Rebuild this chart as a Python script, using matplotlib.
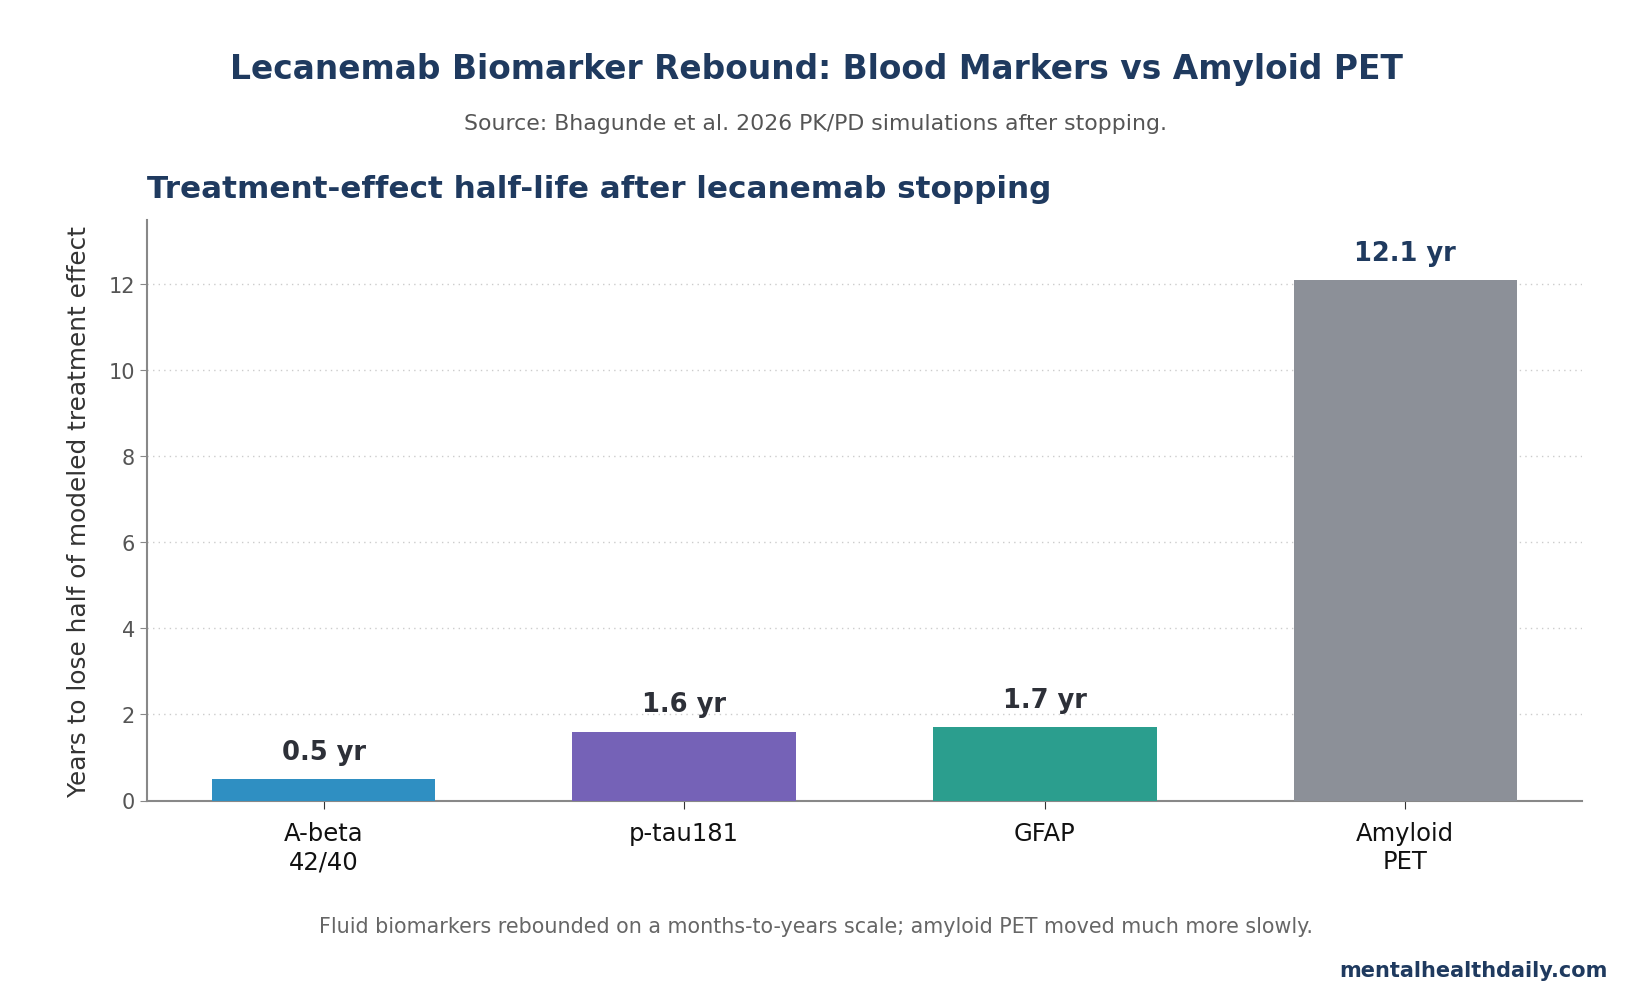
import matplotlib
matplotlib.use("Agg")
import matplotlib.pyplot as plt

categories = ["A-beta\n42/40", "p-tau181", "GFAP", "Amyloid\nPET"]
values = [0.5, 1.6, 1.7, 12.1]
value_labels = ["0.5 yr", "1.6 yr", "1.7 yr", "12.1 yr"]
colors = ["#2f8fc2", "#7562b7", "#2b9e8e", "#8c9098"]
label_colors = ["#2d3038", "#2d3038", "#2d3038", "#1f3a5f"]
yticks = [0, 2, 4, 6, 8, 10, 12]

W, H = 1632, 1003
fig = plt.figure(figsize=(W / 100, H / 100), dpi=100)
ax = fig.add_axes([147 / W, 1 - 801.5 / H, (1582 - 147) / W, (801.5 - 220.6) / H])

x = list(range(len(categories)))
ax.bar(x, values, width=0.62, color=colors, zorder=3)
for xi, v, lab, lc in zip(x, values, value_labels, label_colors):
    ax.text(xi, v + 0.33, lab, ha="center", va="bottom", fontsize=18.5,
            fontweight="bold", color=lc, zorder=4)

ax.set_xlim(-0.49, 3.49)
ax.set_ylim(0, 13.5)
ax.set_yticks(yticks)
ax.set_xticks(x)
ax.set_xticklabels(categories, fontsize=17.5, color="#111111")
ax.tick_params(axis="y", labelsize=15, colors="#555555", length=5, color="#888888")
ax.tick_params(axis="x", length=6, color="#333333", pad=9)
ax.grid(axis="y", linestyle=(0, (1, 3)), color="#cccccc", linewidth=1, zorder=0)
for s in ["top", "right"]:
    ax.spines[s].set_visible(False)
for s in ["left", "bottom"]:
    ax.spines[s].set_color("#888888")
    ax.spines[s].set_linewidth(1.5)
ax.set_ylabel("Years to lose half of modeled treatment effect", fontsize=17.8,
              color="#333333", labelpad=13)
ax.set_title("Treatment-effect half-life after lecanemab stopping", loc="left",
             fontsize=22.3, fontweight="bold", color="#1f3a5f", pad=16)

fig.text(0.5, 1 - 69 / H, "Lecanemab Biomarker Rebound: Blood Markers vs Amyloid PET",
         ha="center", va="center", fontsize=23.7, fontweight="bold", color="#1f3a5f")
fig.text(0.5, 1 - 124 / H, "Source: Bhagunde et al. 2026 PK/PD simulations after stopping.",
         ha="center", va="center", fontsize=15.8, color="#555555")
fig.text(0.5, 1 - 927 / H,
         "Fluid biomarkers rebounded on a months-to-years scale; amyloid PET moved much more slowly.",
         ha="center", va="center", fontsize=14.9, color="#666666")
fig.text(1608 / W, 1 - 971 / H, "mentalhealthdaily.com", ha="right", va="center",
         fontsize=15, fontweight="bold", color="#1f3a5f")

fig.savefig("out.png", dpi=100, facecolor="white")
